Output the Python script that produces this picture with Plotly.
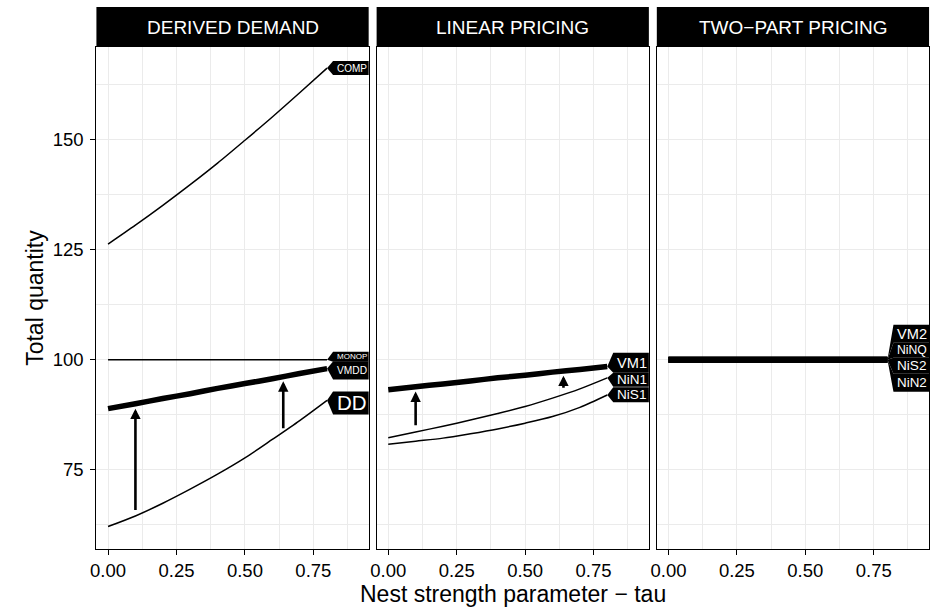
import plotly.graph_objects as go

# ---------------- data ----------------
tau = [0.0, 0.1, 0.2, 0.3, 0.4, 0.5, 0.6, 0.7, 0.8]

# Derived demand panel
comp = [126.3, 130.6, 135.1, 139.8, 144.7, 149.9, 155.2, 160.7, 166.3]
monop = [100.0, 100.0, 100.0, 100.0, 100.0, 100.0, 100.0, 100.0, 100.0]
vmdd = [88.9, 90.0, 91.2, 92.3, 93.5, 94.6, 95.7, 96.9, 98.0]
dd = [62.1, 64.5, 67.4, 70.6, 74.0, 77.7, 81.9, 86.2, 90.8]

# Linear pricing panel
vm1 = [93.2, 93.9, 94.5, 95.2, 95.9, 96.5, 97.2, 97.8, 98.5]
nin1 = [82.3, 83.6, 84.9, 86.3, 87.8, 89.4, 91.3, 93.4, 95.9]
nis1 = [80.8, 81.5, 82.2, 83.2, 84.3, 85.6, 87.1, 89.2, 92.0]

# Two-part pricing panel
vm2 = [100.0, 100.0, 100.0, 100.0, 100.0, 100.0, 100.0, 100.0, 100.0]
ninq = [100.0, 100.0, 100.0, 100.0, 100.0, 100.0, 100.0, 100.0, 100.0]
nis2 = [100.0, 100.0, 100.0, 100.0, 100.0, 100.0, 100.0, 100.0, 100.0]
nin2 = [100.0, 100.0, 100.0, 100.0, 100.0, 100.0, 100.0, 100.0, 100.0]

# Arrows
arrow_tau = [0.1, 0.64]
dd_arrow_from = [65.5, 84.1]
dd_arrow_to = [88.9, 95.1]
lp_arrow_from = [84.8, 93.3]
lp_arrow_to = [92.8, 96.4]

panel_titles = ["DERIVED DEMAND", "LINEAR PRICING", "TWO\u2212PART PRICING"]
x_ticks = [0.0, 0.25, 0.5, 0.75]
x_ticktext = ["0.00", "0.25", "0.50", "0.75"]
y_ticks = [75, 100, 125, 150]
y_ticktext = ["75", "100", "125", "150"]

# ---------------- layout geometry ----------------
W, H = 940, 609
FONT = "Liberation Sans"
panel_px = [(91, 365), (373, 647), (655, 929)]
plot_top, plot_bot = 47, 549
strip_top = 7
xrange_ = [-0.0425, 0.952]
yrange_ = [57.0, 171.1]
TICK_FS = 18.5
TITLE_FS = 23
STRIP_FS = 19

def py(p):
    return 1 - p / H

fig = go.Figure()

series = [
    (0, "COMP", comp, 1.5),
    (0, "MONOP", monop, 1.5),
    (0, "VMDD", vmdd, 5.5),
    (0, "DD", dd, 1.5),
    (1, "VM1", vm1, 5.5),
    (1, "NiN1", nin1, 1.5),
    (1, "NiS1", nis1, 1.5),
    (2, "VM2", vm2, 6),
    (2, "NiNQ", ninq, 6),
    (2, "NiS2", nis2, 6),
    (2, "NiN2", nin2, 6),
]
axn = ["", "2", "3"]
for p, name, vals, lw in series:
    fig.add_trace(go.Scatter(x=tau, y=vals, mode="lines", name=name,
                             line=dict(color="black", width=lw, shape="spline", smoothing=0.8),
                             xaxis="x" + axn[p], yaxis="y" + axn[p],
                             showlegend=False, hoverinfo="skip"))

# axes
for i, (l, r) in enumerate(panel_px):
    xa = dict(domain=[l / W, r / W], range=xrange_, anchor="y" + axn[i],
              tickvals=x_ticks, ticktext=x_ticktext, ticks="outside", ticklen=5,
              tickwidth=1, tickcolor="black", showline=True, mirror=True,
              linecolor="black", linewidth=1.2, showgrid=True, gridcolor="#EBEBEB",
              gridwidth=1, zeroline=False,
              tickfont=dict(family=FONT, size=TICK_FS, color="black"),
              minor=dict(tickvals=[0.125, 0.375, 0.625, 0.875], showgrid=True,
                         gridcolor="#EBEBEB", gridwidth=0.6, ticks=""))
    ya = dict(domain=[py(plot_bot), py(plot_top)], range=yrange_, anchor="x" + axn[i],
              tickvals=y_ticks, ticktext=y_ticktext, showline=True, mirror=True,
              linecolor="black", linewidth=1.2, showgrid=True, gridcolor="#EBEBEB",
              gridwidth=1, zeroline=False,
              minor=dict(tickvals=[62.5, 87.5, 112.5, 137.5, 162.5], showgrid=True,
                         gridcolor="#EBEBEB", gridwidth=0.6, ticks=""))
    if i == 0:
        ya.update(ticks="outside", ticklen=5, tickwidth=1, tickcolor="black",
                  showticklabels=True, ticklabelstandoff=3,
                  tickfont=dict(family=FONT, size=TICK_FS, color="black"))
    else:
        ya.update(ticks="", showticklabels=False, matches="y")
    fig.layout["xaxis" + axn[i]] = xa
    fig.layout["yaxis" + axn[i]] = ya

shapes = []
annotations = []

# strips
for i, (l, r) in enumerate(panel_px):
    shapes.append(dict(type="rect", xref="paper", yref="paper",
                       x0=l / W, x1=r / W, y0=py(plot_top), y1=py(strip_top),
                       fillcolor="black", line=dict(width=0), layer="above"))
    annotations.append(dict(text=panel_titles[i], xref="paper", yref="paper",
                            x=(l + r) / 2 / W, y=py((strip_top + plot_top) / 2),
                            xanchor="center", yanchor="middle", showarrow=False,
                            font=dict(family=FONT, size=STRIP_FS, color="white")))

# arrows
for p, froms, tos in [(0, dd_arrow_from, dd_arrow_to), (1, lp_arrow_from, lp_arrow_to)]:
    for xt, y0, y1 in zip(arrow_tau, froms, tos):
        annotations.append(dict(x=xt, y=y1, ax=xt, ay=y0,
                                xref="x" + axn[p], yref="y" + axn[p],
                                axref="x" + axn[p], ayref="y" + axn[p],
                                showarrow=True, arrowhead=2, arrowsize=0.8,
                                arrowwidth=2.6, arrowcolor="black", text="",
                                standoff=0, startstandoff=0))

# direct labels: (panel, text, series, box centre offset px (up), box height px, font size)
label_specs = [
    (0, "COMP", comp, 0, 14, 10),
    (0, "MONOP", monop, 3, 10, 8),
    (0, "VMDD", vmdd, -2, 18, 10.2),
    (0, "DD", dd, -2.6, 23, 20.5),
    (1, "VM1", vm1, 3.6, 20, 14.6),
    (1, "NiN1", nin1, -2, 14, 13.5),
    (1, "NiS1", nis1, 0.2, 15, 13.6),
    (2, "VM2", vm2, 26, 18, 14.6),
    (2, "NiNQ", ninq, 9.5, 15, 12.2),
    (2, "NiS2", nis2, -6, 16, 13.6),
    (2, "NiN2", nin2, -23, 18, 13.4),
]
gap = 6
for p, txt, vals, dy, h, fs in label_specs:
    xe, ye = tau[-1], vals[-1]
    top, bot = dy + h / 2, dy - h / 2
    path = f"M0,0 L{gap},{top} L80,{top} L80,{bot} L{gap},{bot} Z"
    shapes.append(dict(type="path", xref="x" + axn[p], yref="y" + axn[p],
                       xsizemode="pixel", ysizemode="pixel", xanchor=xe, yanchor=ye,
                       path=path, fillcolor="black", line=dict(width=0), layer="above"))
    annotations.append(dict(text=txt, x=xe, y=ye, xref="x" + axn[p], yref="y" + axn[p],
                            xanchor="left", yanchor="middle", xshift=gap + 2.5, yshift=dy,
                            showarrow=False, borderpad=0,
                            font=dict(family=FONT, size=fs, color="white")))

# axis titles
annotations.append(dict(text="Total quantity", xref="paper", yref="paper",
                        x=29 / W, y=py((plot_top + plot_bot) / 2), textangle=-90,
                        xanchor="center", yanchor="middle", showarrow=False, borderpad=0,
                        font=dict(family=FONT, size=TITLE_FS, color="black")))
annotations.append(dict(text="Nest strength parameter \u2212 tau", xref="paper", yref="paper",
                        x=(panel_px[0][0] + panel_px[2][1]) / 2 / W, y=py(594),
                        xanchor="center", yanchor="middle", showarrow=False, borderpad=0,
                        font=dict(family=FONT, size=TITLE_FS, color="black")))

fig.update_layout(width=W, height=H, margin=dict(l=0, r=0, t=0, b=0),
                  paper_bgcolor="white", plot_bgcolor="white",
                  shapes=shapes, annotations=annotations, showlegend=False)

fig.write_html("out.html")
